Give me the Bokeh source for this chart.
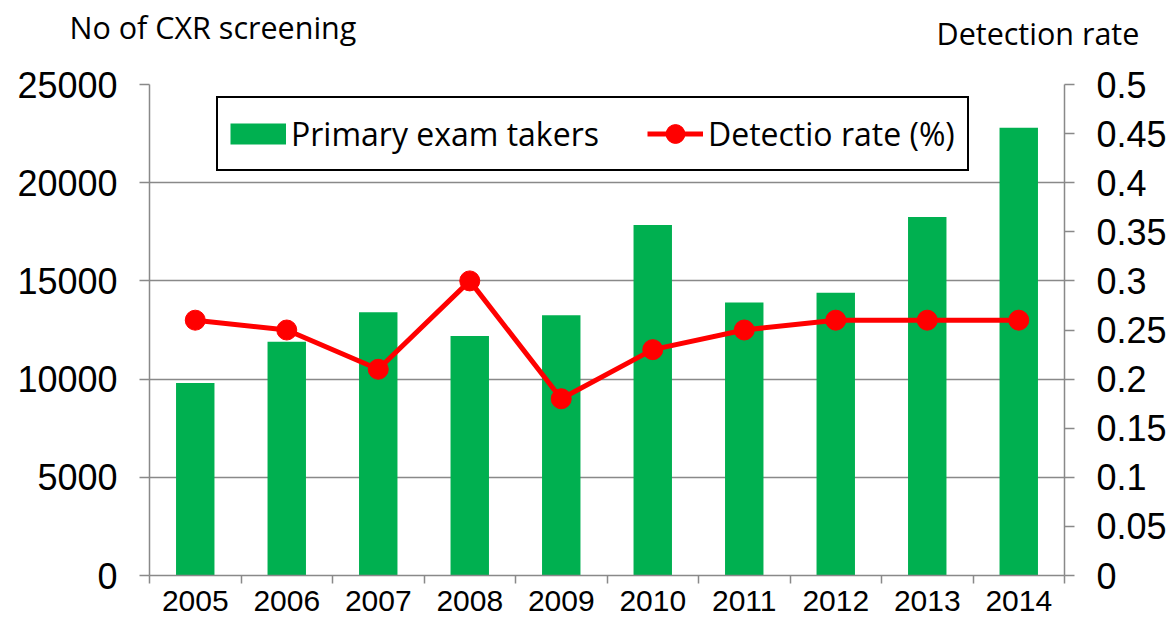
import numpy as np
from bokeh.plotting import figure
from bokeh.models import Range1d, LinearAxis, FixedTicker, Legend, LegendItem, Label, NumeralTickFormatter
from bokeh.embed import file_html
from bokeh.resources import INLINE

# ---- data ----
years = ["2005", "2006", "2007", "2008", "2009", "2010", "2011", "2012", "2013", "2014"]
exam_takers = [9800, 11900, 13400, 12200, 13250, 17850, 13900, 14400, 18250, 22800]
detection_rate = [0.26, 0.25, 0.21, 0.30, 0.18, 0.23, 0.25, 0.26, 0.26, 0.26]
left_ticks = [0, 5000, 10000, 15000, 20000, 25000]
right_ticks = [0, 0.05, 0.1, 0.15, 0.2, 0.25, 0.3, 0.35, 0.4, 0.45, 0.5]
right_tick_labels = ["0", "0.05", "0.1", "0.15", "0.2", "0.25", "0.3", "0.35", "0.4", "0.45", "0.5"]

GREEN = "#00B050"
RED = "#FF0000"
GRAY = "#898989"

n = len(years)
xpos = np.arange(n) + 0.5

p = figure(width=1173, height=625, x_range=Range1d(0, n), y_range=Range1d(0, 25000),
           output_backend="svg", toolbar_location=None,
           min_border_left=149, min_border_right=109, min_border_top=84, min_border_bottom=50)
p.outline_line_color = None
p.background_fill_color = "white"
p.border_fill_color = "white"

# grid
p.xgrid.visible = False
p.ygrid.grid_line_color = GRAY
p.ygrid.grid_line_width = 1.5

# left axis
p.yaxis.ticker = FixedTicker(ticks=left_ticks)
p.yaxis.formatter = NumeralTickFormatter(format="0")
p.yaxis.axis_line_color = GRAY
p.yaxis.axis_line_width = 1.5
p.yaxis.major_tick_line_color = GRAY
p.yaxis.major_tick_line_width = 1.5
p.yaxis.major_tick_out = 10
p.yaxis.major_tick_in = 0
p.yaxis.minor_tick_line_color = None
p.yaxis.major_label_standoff = 22
p.yaxis.major_label_text_font = "Liberation Sans"
p.yaxis.major_label_text_font_size = "36px"
p.yaxis.major_label_text_color = "black"

# bottom axis: labels at centres, ticks at category boundaries
p.xaxis.ticker = FixedTicker(ticks=list(xpos), minor_ticks=list(range(n + 1)))
p.xaxis.major_label_overrides = {float(x): y for x, y in zip(xpos, years)}
p.xaxis.axis_line_color = GRAY
p.xaxis.axis_line_width = 1.5
p.xaxis.major_tick_line_color = None
p.xaxis.major_tick_out = 8
p.xaxis.major_tick_in = 0
p.xaxis.minor_tick_line_color = GRAY
p.xaxis.minor_tick_line_width = 1.5
p.xaxis.minor_tick_out = 8
p.xaxis.minor_tick_in = 0
p.xaxis.major_label_standoff = 7
p.xaxis.major_label_text_font = "Liberation Sans"
p.xaxis.major_label_text_font_size = "30px"
p.xaxis.major_label_text_color = "black"

# right axis
p.extra_y_ranges = {"rate": Range1d(0, 0.5)}
rax = LinearAxis(y_range_name="rate", ticker=FixedTicker(ticks=right_ticks),
                 major_label_overrides=dict(zip(right_ticks, right_tick_labels)))
rax.axis_line_color = GRAY
rax.axis_line_width = 1.5
rax.major_tick_line_color = GRAY
rax.major_tick_line_width = 1.5
rax.major_tick_out = 10
rax.major_tick_in = 0
rax.minor_tick_line_color = None
rax.major_label_standoff = 22
rax.major_label_text_font = "Liberation Sans"
rax.major_label_text_font_size = "36px"
rax.major_label_text_color = "black"
p.add_layout(rax, "right")

# bars
p.vbar(x=xpos, top=exam_takers, width=0.42, fill_color=GREEN, line_color=None)

# line + markers
lr = p.line(x=xpos, y=detection_rate, y_range_name="rate", line_color=RED, line_width=5)
sr = p.scatter(x=xpos, y=detection_rate, y_range_name="rate", size=20,
               fill_color=RED, line_color=RED)

# legend swatch for the bars (a thick line draws a flat rectangle; nothing is drawn in the plot)
swatch = p.line(x=xpos[:1], y=[float("nan")], line_color=GREEN, line_width=21, line_cap="butt")

legend = Legend(items=[LegendItem(label="Primary exam takers", renderers=[swatch]),
                       LegendItem(label="Detectio rate (%)", renderers=[lr, sr])],
                orientation="horizontal", location=(67, 404), margin=0,
                glyph_width=56, glyph_height=47, label_standoff=5, spacing=48, padding=12,
                border_line_color="black", border_line_width=2, border_line_alpha=1,
                background_fill_color="white", background_fill_alpha=1,
                label_text_font="Open Sans", label_text_font_size="32px",
                label_text_color="black")
p.add_layout(legend)

# axis titles (in the top panel so they are not clipped to the frame)
p.add_layout(Label(x=936, y=32, x_units="canvas", y_units="canvas", text="Detection rate",
                   text_font="Open Sans", text_font_size="30.5px", text_color="black",
                   text_baseline="alphabetic"), "above")
p.add_layout(Label(x=69, y=26, x_units="canvas", y_units="canvas", text="No of CXR screening",
                   text_font="Open Sans", text_font_size="30.5px", text_color="black",
                   text_baseline="alphabetic"), "above")

open("out.html", "w").write(file_html(p, INLINE))
